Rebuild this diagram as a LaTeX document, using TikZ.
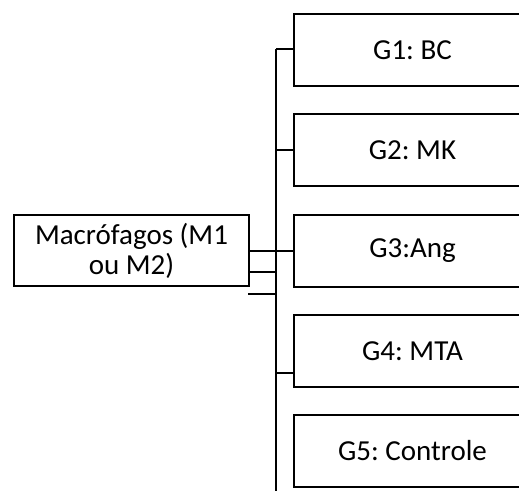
\documentclass[tikz,border=0pt]{standalone}
\usepackage{fontspec}
\setmainfont{Carlito}
\begin{document}
\frenchspacing
\begin{tikzpicture}[x=1pt,y=-1pt,
  box/.style={draw=black,line width=2pt,fill=white,inner sep=0pt,
    font=\fontsize{29}{30}\selectfont\frenchspacing,align=center,anchor=north west},
  wire/.style={draw=black,line width=2pt}]
\useasboundingbox (0,0) rectangle (519,490);
\clip (0,0) rectangle (519,490);
\fill[white] (0,0) rectangle (519,490);
\node[box,minimum width=235pt,minimum height=71pt] (mac) at (13,214) {Macrófagos (M1\\ou M2)};
\node[box,minimum width=237pt,minimum height=72pt] (g1) at (293,13) {G1: BC};
\node[box,minimum width=237pt,minimum height=72pt] (g2) at (293,113) {G2: MK};
\node[box,minimum width=237pt,minimum height=72pt] (g3) at (293,214) {G3:Ang};
\node[box,minimum width=237pt,minimum height=72pt] (g4) at (293,314) {G4: MTA};
\node[box,minimum width=237pt,minimum height=72pt] (g5) at (293,414) {G5: Controle};
\coordinate (ttop) at (276,49);
\coordinate (tbot) at (276,492);
\coordinate (m2) at (248,272);
\coordinate (m3) at (248,294);
\coordinate (g4t) at (293,373);
\draw[wire] (ttop) -- (tbot);
\draw[wire] (ttop) -- (ttop -| g1.west);
\draw[wire] (g2.west -| ttop) -- (g2.west);
\draw[wire] (mac.east |- g3.west) -- (g3.west);
\draw[wire] (m2) -- (m2 -| ttop);
\draw[wire] (m3) -- (m3 -| ttop);
\draw[wire] (g4t -| ttop) -- (g4t);
\end{tikzpicture}
\end{document}
